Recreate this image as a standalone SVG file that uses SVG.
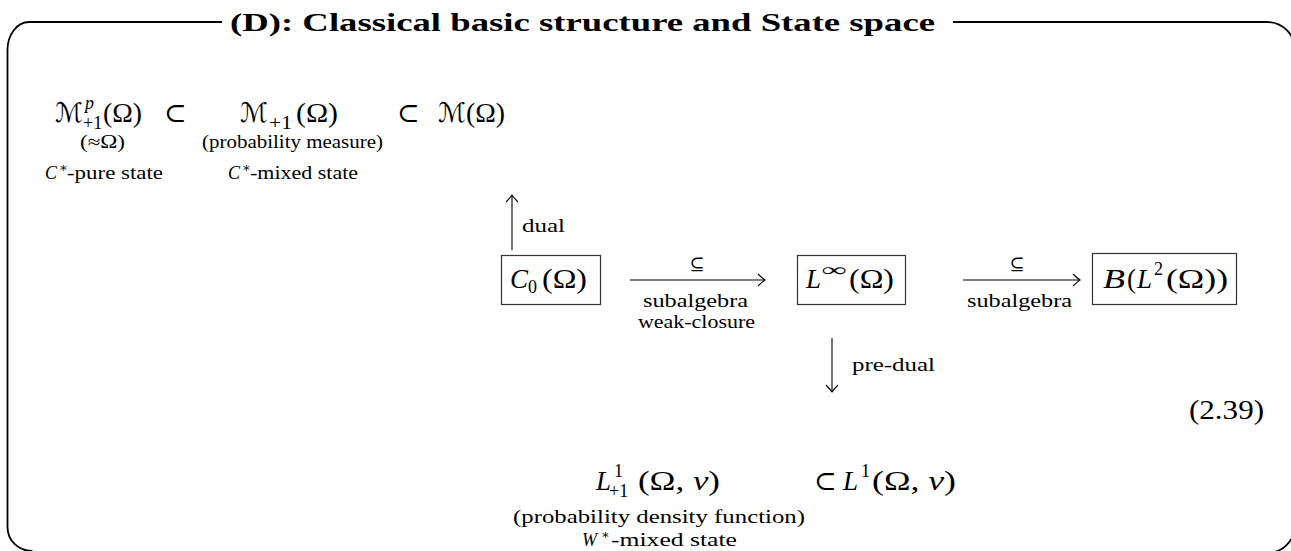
<svg xmlns="http://www.w3.org/2000/svg" width="1291" height="551" viewBox="0 0 1291 551">
<style>
text{font-family:"Liberation Serif","DejaVu Serif",serif;fill:#000}
.m{font-size:27px}
.s{font-size:18px}
.t{font-size:18px}
.i{font-style:italic}
.cal{font-family:"DejaVu Serif","DejaVu Sans",serif;font-size:27px}
.st{font-size:13px}
.title{font-size:26px;font-weight:bold}
.box{fill:none;stroke:#333;stroke-width:1.2}
.ln{fill:none;stroke:#000;stroke-width:1.1}
.frame{fill:none;stroke:#000;stroke-width:1.8}
</style>
<defs>
<marker id="ah" markerUnits="userSpaceOnUse" viewBox="-9 -7 11 14" refX="0" refY="0" markerWidth="11" markerHeight="14" orient="auto" overflow="visible">
<path d="M-7,-6 Q-2,-1.2 0,0 Q-2,1.2 -7,6" fill="none" stroke="#000" stroke-width="1.1"/>
</marker>
</defs>
<rect width="1291" height="551" fill="#fff"/>
<g id="frame">
<path class="frame" d="M222,22 H29 A21.5 28 0 0 0 7.5,50 V527 A24 24 0 0 0 31.5,551 V553 H1267 A28 28 0 0 0 1295,525 V50 A28 28 0 0 0 1267,22 H953"/>
<text class="title" x="230" y="31" textLength="705" lengthAdjust="spacingAndGlyphs">(D): Classical basic structure and State space</text>
</g>
<g id="node-pure">
<text class="cal" x="55" y="122" textLength="28" lengthAdjust="spacingAndGlyphs">ℳ</text>
<text class="s i" x="85" y="109">p</text>
<text class="s" x="83" y="129">+1</text>
<text class="m" x="103" y="122" textLength="39" lengthAdjust="spacingAndGlyphs">(Ω)</text>
<text class="t" x="80" y="148" textLength="45" lengthAdjust="spacingAndGlyphs">(≈Ω)</text>
<text class="t i" x="45" y="179">C</text>
<text class="st" x="59" y="172">∗</text>
<text class="t" x="67" y="179" textLength="96" lengthAdjust="spacingAndGlyphs">-pure state</text>
</g>
<g id="node-mixed">
<text class="cal" x="240" y="122" textLength="28" lengthAdjust="spacingAndGlyphs">ℳ</text>
<text class="s" x="269" y="129" textLength="23" lengthAdjust="spacingAndGlyphs">+1</text>
<text class="m" x="296" y="122" textLength="42" lengthAdjust="spacingAndGlyphs">(Ω)</text>
<text class="t" x="202" y="148" textLength="181" lengthAdjust="spacingAndGlyphs">(probability measure)</text>
<text class="t i" x="228" y="179">C</text>
<text class="st" x="242" y="172">∗</text>
<text class="t" x="250" y="179" textLength="108" lengthAdjust="spacingAndGlyphs">-mixed state</text>
</g>
<g id="node-measure">
<text class="cal" x="438" y="122" textLength="28" lengthAdjust="spacingAndGlyphs">ℳ</text>
<text class="m" x="466" y="122" textLength="39" lengthAdjust="spacingAndGlyphs">(Ω)</text>
</g>
<g id="node-c0">
<rect class="box" x="501.5" y="255.5" width="99" height="49"/>
<text class="m i" x="510" y="288">C</text>
<text class="s" x="528" y="293">0</text>
<text class="m" x="542" y="288" textLength="45" lengthAdjust="spacingAndGlyphs">(Ω)</text>
</g>
<g id="node-linf">
<rect class="box" x="797.5" y="255.5" width="108" height="49"/>
<text class="m i" x="806" y="288">L</text>
<text class="s" x="821" y="276" textLength="25" lengthAdjust="spacingAndGlyphs">∞</text>
<text class="m" x="849" y="288" textLength="45" lengthAdjust="spacingAndGlyphs">(Ω)</text>
</g>
<g id="node-b">
<rect class="box" x="1092.5" y="253.5" width="144" height="51"/>
<text class="m i" x="1103" y="288" textLength="22" lengthAdjust="spacingAndGlyphs">B</text>
<text class="m" x="1127" y="288">(</text>
<text class="m i" x="1137" y="288">L</text>
<text class="s" x="1154" y="275">2</text>
<text class="m" x="1166" y="288" textLength="62" lengthAdjust="spacingAndGlyphs">(Ω))</text>
</g>
<g id="node-l1p">
<text class="m i" x="596" y="490">L</text>
<text class="s" x="614" y="477">1</text>
<text class="s" x="609" y="497">+1</text>
<text class="m" x="638" y="490" textLength="82" lengthAdjust="spacingAndGlyphs">(Ω, <tspan class="i">ν</tspan>)</text>
<text class="t" x="513" y="523" textLength="292" lengthAdjust="spacingAndGlyphs">(probability density function)</text>
<text class="t i" x="582" y="546">W</text>
<text class="st" x="601" y="539">∗</text>
<text class="t" x="611" y="546" textLength="126" lengthAdjust="spacingAndGlyphs">-mixed state</text>
</g>
<g id="node-l1">
<text class="m i" x="843" y="490">L</text>
<text class="s" x="861" y="477">1</text>
<text class="m" x="872" y="490" textLength="84" lengthAdjust="spacingAndGlyphs">(Ω, <tspan class="i">ν</tspan>)</text>
</g>
<g id="eqnum">
<text class="m" x="1189" y="419" textLength="75" lengthAdjust="spacingAndGlyphs">(2.39)</text>
</g>
<g id="connectors">
<text class="m" x="164" y="122">⊂</text>
<text class="m" x="397" y="122">⊂</text>
<text class="m" x="814" y="490">⊂</text>
<line class="ln" x1="512" y1="250" x2="512" y2="195" marker-end="url(#ah)"/>
<text class="t" x="522" y="232" textLength="43" lengthAdjust="spacingAndGlyphs">dual</text>
<line class="ln" x1="630" y1="280" x2="765" y2="280" marker-end="url(#ah)"/>
<text class="t" x="697" y="270" text-anchor="middle">⊆</text>
<text class="t" x="643" y="307" textLength="105" lengthAdjust="spacingAndGlyphs">subalgebra</text>
<text class="t" x="638" y="328" textLength="117" lengthAdjust="spacingAndGlyphs">weak-closure</text>
<line class="ln" x1="963" y1="280" x2="1080" y2="280" marker-end="url(#ah)"/>
<text class="t" x="1017" y="270" text-anchor="middle">⊆</text>
<text class="t" x="967" y="307" textLength="105" lengthAdjust="spacingAndGlyphs">subalgebra</text>
<line class="ln" x1="832" y1="338" x2="832" y2="392" marker-end="url(#ah)"/>
<text class="t" x="852" y="371" textLength="83" lengthAdjust="spacingAndGlyphs">pre-dual</text>
</g>
</svg>
